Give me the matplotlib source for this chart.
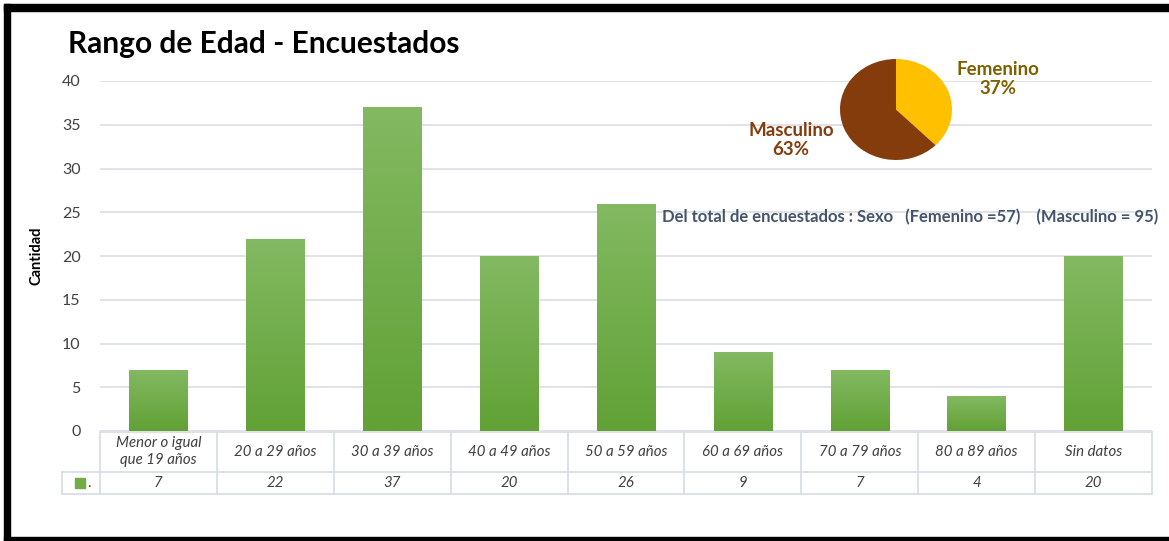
import numpy as np
import matplotlib.pyplot as plt
from matplotlib.patches import Rectangle
from matplotlib.colors import LinearSegmentedColormap

# Data
categorias = ["Menor o igual\nque 19 años", "20 a 29 años", "30 a 39 años", "40 a 49 años",
              "50 a 59 años", "60 a 69 años", "70 a 79 años", "80 a 89 años", "Sin datos"]
cantidad = [7, 22, 37, 20, 26, 9, 7, 4, 20]
sexo_labels = ["Femenino", "Masculino"]
sexo_valores = [57, 95]
sexo_pct = [37, 63]          # as printed on the chart
sexo_colores = ["#FFC000", "#843C0C"]
sexo_texto = ["#7F6000", "#843C0C"]

plt.rcParams['font.family'] = ['Lato', 'DejaVu Sans']

W, H = 1169, 541
fig = plt.figure(figsize=(W / 100, H / 100), dpi=100)

# plot area in pixels: x 100..1152, y 81..431
px_l, px_r, px_t, px_b = 100, 1152, 81, 431
ax = fig.add_axes([px_l / W, (H - px_b) / H, (px_r - px_l) / W, (px_b - px_t) / H])

grid_col = "#D9DEE5"
text_col = "#404040"
x = np.arange(len(cantidad))
bars = ax.bar(x, cantidad, width=0.5, color="#70AD47", zorder=2)

# vertical gradient inside each bar
grad = np.linspace(0, 1, 256).reshape(-1, 1)
cmap = LinearSegmentedColormap.from_list("g", ["#61A135", "#83B962"])
for b in bars:
    im = ax.imshow(grad, cmap=cmap, origin="lower", aspect="auto", zorder=3,
                   extent=(b.get_x(), b.get_x() + b.get_width(), 0, b.get_height()))
    im.set_clip_path(b)

ax.set_xlim(-0.5, len(cantidad) - 0.5)
ax.set_ylim(0, 40)
ax.set_yticks(range(0, 41, 5))
ax.yaxis.grid(True, color=grid_col, linewidth=1.2, zorder=0)
ax.set_axisbelow(True)
for s in ax.spines.values():
    s.set_visible(False)
ax.tick_params(axis="y", length=0, pad=14, labelsize=11.5, labelcolor=text_col)
ax.tick_params(axis="x", length=0, labelbottom=False)
ax.set_ylabel("Cantidad", fontsize=10.5, fontweight="bold", labelpad=13)

# data table under the axis
tr = ax.get_xaxis_transform()
def fy(ypix):
    return (px_b - ypix) / (px_b - px_t)

y_top, y_mid, y_bot = fy(431.5), fy(472), fy(494)
leg_l = -0.5 + (62 - px_l) / ((px_r - px_l) / len(cantidad))
lk = dict(color=grid_col, linewidth=1.3, transform=tr, clip_on=False, zorder=1)
ax.plot([-0.5, len(cantidad) - 0.5], [y_top, y_top], **lk)
ax.plot([leg_l, len(cantidad) - 0.5], [y_mid, y_mid], **lk)
ax.plot([leg_l, len(cantidad) - 0.5], [y_bot, y_bot], **lk)
ax.plot([leg_l, leg_l], [y_mid, y_bot], **lk)
for i in range(len(cantidad) + 1):
    ax.plot([i - 0.5, i - 0.5], [y_top, y_bot], **lk)
for i, (c, v) in enumerate(zip(categorias, cantidad)):
    ax.text(i, fy(451.5), c, transform=tr, ha="center", va="center", fontsize=10.8,
            style="italic", color=text_col, linespacing=1.2)
    ax.text(i, fy(483), str(v), transform=tr, ha="center", va="center", fontsize=10.8,
            style="italic", color=text_col)
sq_x = -0.5 + (80 - px_l) / ((px_r - px_l) / len(cantidad))
ax.plot([sq_x], [fy(483)], marker="s", markersize=6.5, color="#70AD47",
        transform=tr, clip_on=False)
ax.text(sq_x + 0.06, fy(483), ".", transform=tr, ha="left", va="center",
        fontsize=10.8, color=text_col)

# title and annotation
fig.text(68 / W, 1 - 44 / H, "Rango de Edad - Encuestados", fontsize=21.5,
         fontweight="bold", ha="left", va="center")
fig.text(662 / W, 1 - 217 / H,
         "Del total de encuestados : Sexo   (Femenino =57)    (Masculino = 95)",
         fontsize=12, fontweight="bold", color="#44546A", ha="left", va="center")

# pie for sex
pax = fig.add_axes([840 / W, (H - 160) / H, 112 / W, 101 / H])
pax.pie(sexo_valores, colors=sexo_colores, startangle=90, counterclock=False,
        wedgeprops=dict(linewidth=0))
pax.set_aspect("auto")
pax.set_xlim(-1, 1)
pax.set_ylim(-1, 1)
pos = [(998, 79), (791, 140)]
for lab, p, col, (tx, ty) in zip(sexo_labels, sexo_pct, sexo_texto, pos):
    fig.text(tx / W, 1 - ty / H, f"{lab}\n{p}%", fontsize=13.5, fontweight="bold",
             color=col, ha="center", va="center", linespacing=1.2)

# black frame
for (x0, y0, w, h) in [(4, 4, W - 4, 7), (4, 4, 6, H - 4), (4, 537, W - 4, 4)]:
    fig.patches.append(Rectangle((x0 / W, 1 - (y0 + h) / H), w / W, h / H,
                                 transform=fig.transFigure, color="black", zorder=10))

plt.savefig("out.png", dpi=100)
plt.close()
